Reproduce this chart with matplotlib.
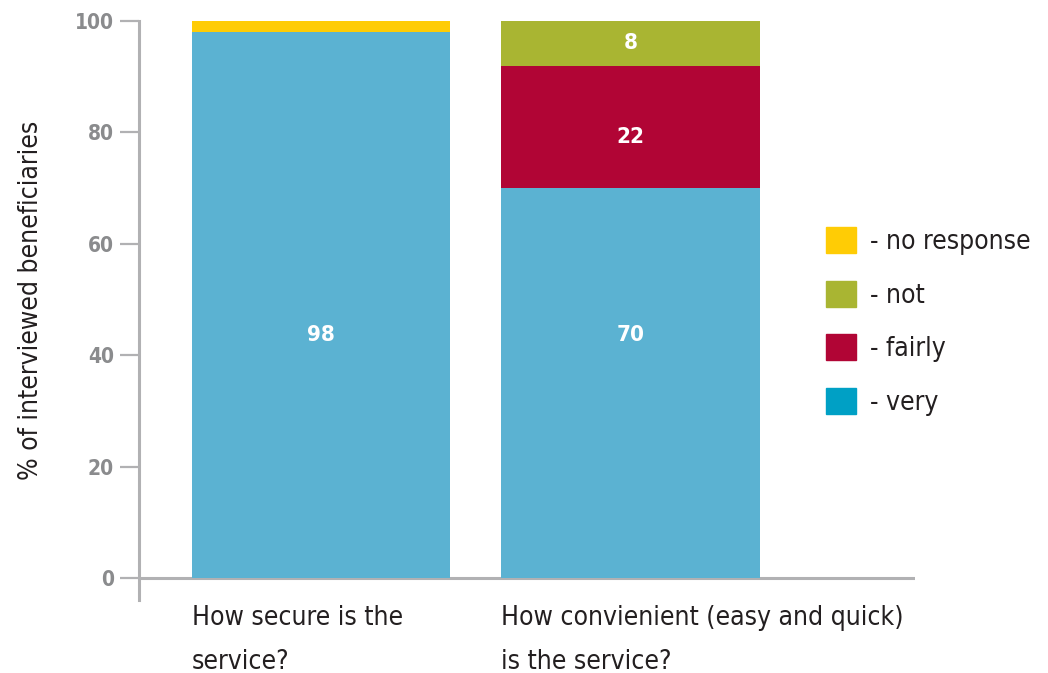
import matplotlib
matplotlib.use("Agg")
import matplotlib.pyplot as plt
from matplotlib import font_manager
from matplotlib.patches import Patch

# ---- data ----
categories = ["How secure is the\nservice?", "How convienient (easy and quick)\nis the service?"]
very = [98, 70]
fairly = [0, 22]
not_ = [0, 8]
no_response = [2, 0]
series_names = ["- no response", "- not", "- fairly", "- very"]
yticks = [0, 20, 40, 60, 80, 100]

# ---- fonts ----
names = {f.name for f in font_manager.fontManager.ttflist}
cond = [f for f in font_manager.fontManager.ttflist if ('Condensed' in f.name or 'Narrow' in f.name or f.stretch in ('condensed', 'semi-condensed', 'extra-condensed'))]
family = 'DejaVu Sans'
stretch = 'normal'
if any(f.name == 'DejaVu Sans' and f.stretch == 'condensed' for f in font_manager.fontManager.ttflist):
    family, stretch = 'DejaVu Sans', 'condensed'
elif 'Liberation Sans Narrow' in names:
    family = 'Liberation Sans Narrow'
elif cond:
    family = cond[0].name
    stretch = cond[0].stretch
plt.rcParams['font.family'] = [family]
plt.rcParams['font.stretch'] = stretch

c_very_bar = '#5BB2D2'
c_very_leg = '#00A0C5'
c_fairly = '#B10535'
c_not = '#A9B532'
c_nr = '#FFCC05'
grey = '#B1B1B3'
tick_grey = '#8A8B8D'
text_c = '#231F20'

fig = plt.figure(figsize=(10.48, 6.73), dpi=100)
ax = fig.add_axes([139/1048, 73/673, (915-139)/1048, (600-21)/673])

x = list(range(len(categories)))
w = 0.834
bottom = [0]*len(x)
segments = [(very, c_very_bar), (fairly, c_fairly), (not_, c_not), (no_response, c_nr)]
for vals, col in segments:
    ax.bar(x, vals, w, bottom=bottom, color=col, linewidth=0, zorder=2)
    bottom = [b + v for b, v in zip(bottom, vals)]

# value labels
lab_kw = dict(ha='center', va='center', color='white', fontsize=16, fontweight='bold', zorder=3)
for i in x:
    ax.text(i, 43.6, str(very[i]), **lab_kw)
    if fairly[i] >= 5:
        ax.text(i, very[i] + fairly[i]/2 - 1.8, str(fairly[i]), **lab_kw)
    if not_[i] >= 5:
        ax.text(i, very[i] + fairly[i] + not_[i]/2, str(not_[i]), **lab_kw)

ax.set_xlim(-0.588, 1.919)
ax.set_ylim(-3.95, 100)
ax.axhline(0, color=grey, lw=2.2, zorder=1)
for s in ['top', 'right', 'bottom']:
    ax.spines[s].set_visible(False)
ax.spines['left'].set_color(grey)
ax.spines['left'].set_linewidth(2.2)
ax.set_yticks(yticks)
ax.tick_params(axis='y', direction='out', length=14, width=1.6, color=grey,
               labelsize=15, labelcolor=tick_grey, pad=4)
for t in ax.get_yticklabels():
    t.set_fontweight('bold')
ax.set_xticks([])
for i, c in zip(x, categories):
    ax.text(i - w/2, -4.85, c, ha='left', va='top', fontsize=19, color=text_c,
            linespacing=1.9)

fig.text(31/1048, 1 - 300/673, '% of interviewed beneficiaries', rotation=90,
         ha='center', va='center', fontsize=19, color=text_c)

handles = [Patch(color=c_nr), Patch(color=c_not), Patch(color=c_fairly), Patch(color=c_very_leg)]
leg = fig.legend(handles, series_names, loc='upper left', bbox_to_anchor=(826/1048, 1-227/673),
                 frameon=False, fontsize=19, handlelength=1.14, handleheight=1.14,
                 handletextpad=0.53, labelspacing=0.97, borderpad=0, borderaxespad=0,
                 labelcolor=text_c)

fig.savefig('out.png', dpi=100)
